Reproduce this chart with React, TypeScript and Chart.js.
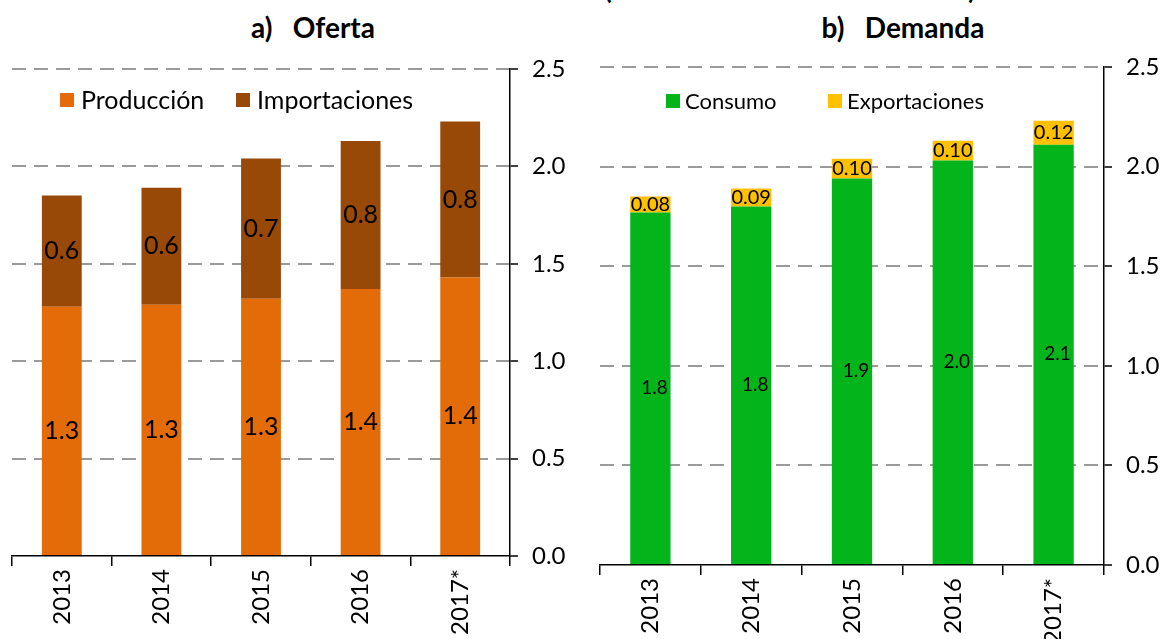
import React, { useEffect, useRef } from "react";
import { Chart, registerables } from "chart.js";

Chart.register(...registerables);

// ---------- data ----------
const years = ["2013", "2014", "2015", "2016", "2017*"];
const produccion = [1.28, 1.29, 1.32, 1.37, 1.43];
const importaciones = [0.57, 0.6, 0.72, 0.76, 0.8];
const consumo = [1.77, 1.8, 1.94, 2.03, 2.11];
const exportaciones = [0.08, 0.09, 0.1, 0.1, 0.12];
const yTicks = [0, 0.5, 1.0, 1.5, 2.0, 2.5];

const FONT = "Lato, 'Open Sans', sans-serif";

type LabelStyle = { size: number; decimals: number; dx?: number; dy?: number };
type LegendPos = { x: number; y: number; box: number; size: number; gap: number };

function makeLabelsPlugin(styles: LabelStyle[]) {
  return {
    id: "valueLabels",
    afterDatasetsDraw(chart: any) {
      const ctx = chart.ctx;
      chart.data.datasets.forEach((ds: any, di: number) => {
        const meta = chart.getDatasetMeta(di);
        const st = styles[di];
        ctx.save();
        ctx.font = `${st.size}px ${FONT}`;
        ctx.fillStyle = "#000";
        ctx.textAlign = "center";
        ctx.textBaseline = "middle";
        meta.data.forEach((el: any, i: number) => {
          const v = ds.data[i] as number;
          const p = el.getProps(["x", "y", "base"], true);
          ctx.fillText(v.toFixed(st.decimals), p.x + (st.dx || 0), (p.y + p.base) / 2 + (st.dy || 0));
        });
        ctx.restore();
      });
    },
  };
}

function makeLegendPlugin(pos: LegendPos[]) {
  return {
    id: "insideLegend",
    afterDraw(chart: any) {
      const ctx = chart.ctx;
      chart.data.datasets.forEach((ds: any, di: number) => {
        const p = pos[di];
        ctx.save();
        ctx.fillStyle = ds.backgroundColor;
        ctx.fillRect(p.x, p.y - p.box / 2, p.box, p.box);
        ctx.font = `${p.size}px ${FONT}`;
        ctx.fillStyle = "#000";
        ctx.textAlign = "left";
        ctx.textBaseline = "middle";
        ctx.fillText(ds.label, p.x + p.box + p.gap, p.y + 1);
        ctx.restore();
      });
    },
  };
}

type PanelProps = {
  left: number;
  width: number;
  height: number;
  series: { label: string; data: number[]; color: string }[];
  padLeft: number;
  padTop: number;
  yAxisWidth: number;
  xAxisHeight: number;
  labelStyles: LabelStyle[];
  legend: LegendPos[];
  tickSize: number;
};

function Panel(props: PanelProps) {
  const ref = useRef<HTMLCanvasElement | null>(null);
  useEffect(() => {
    if (!ref.current) return;
    const chart = new Chart(ref.current, {
      type: "bar",
      data: {
        labels: years,
        datasets: props.series.map((s) => ({
          label: s.label,
          data: s.data,
          backgroundColor: s.color,
          borderWidth: 0,
          barPercentage: 0.4,
          categoryPercentage: 1,
        })),
      },
      options: {
        responsive: false,
        maintainAspectRatio: false,
        animation: false,
        layout: { padding: { left: props.padLeft, top: props.padTop, right: 0, bottom: 0 } },
        plugins: { legend: { display: false }, tooltip: { enabled: false }, title: { display: false } },
        scales: {
          x: {
            stacked: true,
            offset: true,
            grid: {
              display: true,
              offset: true,
              drawOnChartArea: false,
              drawTicks: true,
              tickLength: 10,
              color: "#000",
              tickColor: "#000",
              lineWidth: 1.5,
            },
            border: { display: true, color: "#000", width: 1.5 },
            ticks: {
              maxRotation: 90,
              minRotation: 90,
              color: "#000",
              padding: 3,
              font: { family: FONT, size: props.tickSize },
            },
            afterFit: (scale: any) => {
              scale.height = props.xAxisHeight;
            },
          },
          y: {
            stacked: true,
            position: "right",
            min: 0,
            max: 2.5,
            afterBuildTicks: (scale: any) => {
              scale.ticks = yTicks.map((v) => ({ value: v }));
            },
            grid: {
              display: true,
              drawOnChartArea: true,
              drawTicks: true,
              tickLength: 8,
              color: (c: any) => (c.tick && c.tick.value === 0 ? "rgba(0,0,0,0)" : "#9a9a9a"),
              tickColor: "#000",
              tickBorderDash: [],
              lineWidth: 2,
              tickWidth: 1.5,
            },
            border: { display: true, color: "#000", width: 1.5, dash: [14, 8] },
            ticks: {
              color: "#000",
              padding: 14,
              font: { family: FONT, size: props.tickSize },
              callback: (v: any) => Number(v).toFixed(1),
            },
            afterFit: (scale: any) => {
              scale.width = props.yAxisWidth;
            },
          },
        },
      },
      plugins: [makeLabelsPlugin(props.labelStyles), makeLegendPlugin(props.legend)],
    } as any);
    return () => chart.destroy();
  }, []);
  return (
    <div style={{ position: "absolute", left: props.left, top: 0, width: props.width, height: props.height }}>
      <canvas ref={ref} width={props.width} height={props.height} style={{ width: props.width, height: props.height, display: "block" }} />
    </div>
  );
}

const titleStyle: React.CSSProperties = {
  position: "absolute",
  top: 10,
  fontFamily: FONT,
  fontWeight: 700,
  fontSize: 28,
  lineHeight: "34px",
  whiteSpace: "pre",
  color: "#000",
  textAlign: "center",
};

export default function App() {
  return (
    <div
      style={{
        position: "fixed",
        left: 0,
        top: 0,
        width: 1162,
        height: 639,
        background: "#fff",
        overflow: "hidden",
      }}
    >
      <div
        style={{
          position: "absolute",
          left: 540,
          width: 500,
          top: -26,
          fontFamily: FONT,
          fontWeight: 700,
          fontSize: 26,
          lineHeight: "30px",
          textAlign: "center",
          whiteSpace: "pre",
        }}
      >
        (Millones de toneladas métricas)
      </div>
      <div style={{ ...titleStyle, left: 163, width: 300 }}>{"a)   Oferta"}</div>
      <div style={{ ...titleStyle, left: 753, width: 300 }}>{"b)   Demanda"}</div>
      <Panel
        left={0}
        width={580}
        height={639}
        padLeft={12}
        padTop={69}
        yAxisWidth={70}
        xAxisHeight={83}
        tickSize={24}
        series={[
          { label: "Producción", data: produccion, color: "#E36C09" },
          { label: "Importaciones", data: importaciones, color: "#984807" },
        ]}
        labelStyles={[
          { size: 25, decimals: 1 },
          { size: 25, decimals: 1 },
        ]}
        legend={[
          { x: 60, y: 100, box: 14, size: 25, gap: 7 },
          { x: 236, y: 100, box: 14, size: 25, gap: 7 },
        ]}
      />
      <Panel
        left={580}
        width={582}
        height={639}
        padLeft={20}
        padTop={67}
        yAxisWidth={58}
        xAxisHeight={74}
        tickSize={24}
        series={[
          { label: "Consumo", data: consumo, color: "#03B51A" },
          { label: "Exportaciones", data: exportaciones, color: "#FFC000" },
        ]}
        labelStyles={[
          { size: 19, decimals: 1, dx: 4 },
          { size: 20, decimals: 2 },
        ]}
        legend={[
          { x: 86, y: 101, box: 14, size: 22, gap: 5 },
          { x: 248, y: 101, box: 14, size: 22, gap: 5 },
        ]}
      />
    </div>
  );
}
